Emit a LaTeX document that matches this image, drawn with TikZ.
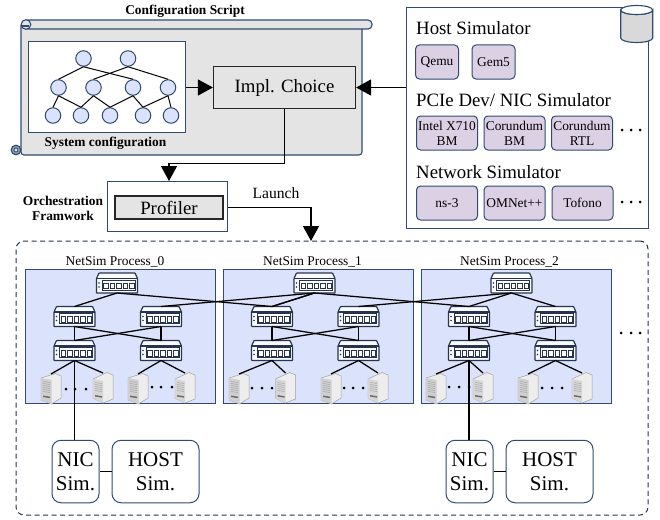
\documentclass[tikz,border=0pt]{standalone}
\usepackage{fontspec}
\setmainfont{Liberation Serif}
\usetikzlibrary{arrows.meta}
\definecolor{framecol}{HTML}{2F4B73}
\definecolor{scrollgray}{HTML}{E4E4E4}
\definecolor{simfill}{HTML}{DCD0E4}
\definecolor{procfill}{HTML}{DAE3FB}
\definecolor{switchcol}{HTML}{26344E}
\newcommand{\sizeS}{\fontsize{13.4}{15}\selectfont}
\newcommand{\sizeM}{\fontsize{15.6}{18}\selectfont}
\newcommand{\sizeL}{\fontsize{18.8}{22}\selectfont}
\newcommand{\sizeXL}{\fontsize{21}{24.5}\selectfont}
\tikzset{
  wire/.style={black,line width=1.25pt},
  bigarrow/.style={black,line width=1.3pt,-{Triangle[length=15pt,width=16pt]}},
  confnode/.style={circle,draw=framecol,fill=procfill,line width=1pt,minimum size=15.5pt,inner sep=0pt},
  simbox/.style={draw=framecol,fill=simfill,rounded corners=4pt,line width=1pt,inner sep=0pt,align=center,font=\sizeS},
  endbox/.style={draw=framecol,fill=white,rounded corners=9pt,line width=1pt,inner sep=0pt,align=center,font=\sizeXL,minimum height=62.5pt},
  procbox/.style={draw=framecol,fill=procfill,line width=1pt,inner sep=0pt,minimum width=190pt,minimum height=134pt},
  graybox/.style={draw=black!85,fill=scrollgray,line width=1.2pt,inner sep=0pt},
  plainbox/.style={draw=framecol,fill=white,line width=1pt,inner sep=0pt},
  netswitch/.pic={
    \fill[fill=white!85!procfill,draw=switchcol,line width=1.2pt,rounded corners=0.6pt]
      (-20.5,-4.5)--(-18,-10)--(18,-10)--(20.5,-4.5)--(20.5,10)--(-20.5,10)--cycle;
    \draw[switchcol,line width=1.2pt] (-20.5,-4.5)--(20.5,-4.5);
    \draw[switchcol,line width=1pt,fill=white] (-15,-3)rectangle(18,7);
    \foreach \q in {-11,-4.5,2,8.5,15}
      \draw[switchcol,line width=0.9pt] (\q-2.3,5.5)rectangle(\q+2.3,0);
    \fill[switchcol] (-18,0)circle(0.8) (-18,4)circle(0.8);
    \coordinate (-top) at (0,-10);
    \coordinate (-bot) at (0,10);
  },
  servera/.pic={
    \fill[fill=gray!14,draw=gray!75,line width=0.5pt] (-10,-11)--(4.5,-15.5)--(10,-13)--(10,9)--(0.5,15)--(-10,11)--cycle;
    \fill[fill=gray!38] (-10,-11)--(0.5,-9)--(0.5,15)--(-10,11)--cycle;
    \foreach \q in {-7,-5,-3,-1,1,3}
      \draw[gray!70,line width=0.5pt] (-8,\q-0.5)--(-1,\q+0.5);
    \fill[gray!85!black] (-8,6.5)--(-1,7.7)--(-1,9.2)--(-8,8)--cycle;
    \coordinate (-top) at (0,-15);
  },
  serverb/.pic={
    \fill[fill=gray!14,draw=gray!75,line width=0.5pt] (-10,-9)--(4,-15.5)--(10,-13)--(10,11)--(0,15)--(-10,10)--cycle;
    \fill[fill=gray!32] (-10,-9)--(0,-7)--(0,15)--(-10,10)--cycle;
    \foreach \q in {-5,-3,-1,1,3}
      \draw[gray!70,line width=0.5pt] (-8,\q-0.5)--(-1,\q+0.5);
    \fill[gray!85!black] (-8,7)--(-1,8.2)--(-1,9.7)--(-8,8.5)--cycle;
    \coordinate (-top) at (0,-15);
  }
}
\begin{document}
\begin{tikzpicture}[x=1pt,y=-1pt]
  \useasboundingbox (0,0) rectangle (660,519);
  % scroll
  \draw[framecol,fill=scrollgray,line width=1.1pt,rounded corners=3pt] (21,25)--(21,155)--(362,155)--(362,25);
  \draw[framecol,fill=scrollgray,line width=1.1pt,rounded corners=4pt] (24,20)--(372,20)--(372,29)--(24,29)--cycle;
  \draw[framecol,fill=scrollgray,line width=1.1pt] (26,24.5) circle (4.8);
  \draw[framecol,line width=1.1pt] (21,26)--(29,26);
  \draw[framecol,fill=framecol!55,line width=1.1pt] (16,150) circle (4.8);
  \draw[framecol,fill=scrollgray,line width=0.8pt] (16,150) circle (2);
  \node[font=\sizeS\bfseries] (scripttitle) at (185,11) {Configuration Script};
  \node[plainbox,minimum width=157pt,minimum height=90pt] (sysbox) at (106.5,87) {};
  \node[font=\sizeS\bfseries] (syslabel) at (105.5,143) {System configuration};
  % configuration tree
  \foreach \n/\x/\y in {t0/83.5/58.5,t1/128/58.5,
    m0/58.5/87.5,m1/93.5/87.5,m2/133/87.5,m3/168/87.5,
    b0/53/115.5,b1/81/115.5,b2/110/115.5,b3/143/115.5,b4/171/115.5}
    \node[confnode] (\n) at (\x,\y) {};
  \foreach \a/\b in {t0/m0,t0/m2,t1/m1,t1/m3,m0/b0,m0/b1,m1/b1,m1/b2,m2/b2,m2/b3,m3/b3,m3/b4}
    \draw[black,line width=1pt] (\a.south)--(\b.north);
  \node[graybox,font=\sizeL,minimum width=142pt,minimum height=42pt] (impl) at (284.5,87.5) {Impl. Choice};
  \node[plainbox,minimum width=120pt,minimum height=50pt] (orch) at (167.5,206.5) {};
  \node[graybox,font=\sizeL,minimum width=108pt,minimum height=23pt] (profiler) at (169,207.5) {Profiler};
  \node[font=\sizeS\bfseries,align=center] (orchlabel) at (63,208) {Orchestration\\Framwork};
  \node[font=\sizeM] (launch) at (276,193) {Launch};
  % simulator panel
  \node[plainbox,minimum width=242pt,minimum height=220pt] (panel) at (527,118) {};
  \fill[fill=scrollgray!95!black,draw=framecol,line width=1.1pt] (620.7,10) arc[start angle=180,end angle=360,x radius=16,y radius=-4.5]--(652.7,38) arc[start angle=0,end angle=-180,x radius=16,y radius=-4.5]--cycle;
  \draw[framecol,fill=white,line width=1.1pt] (636.7,10) ellipse (16 and 4.5);
  \node[font=\sizeL,anchor=west,inner sep=0pt] (hosttitle) at (416,28) {Host Simulator};
  \node[font=\sizeL,anchor=west,inner sep=0pt] (pcietitle) at (416,100) {PCIe Dev/ NIC Simulator};
  \node[font=\sizeL,anchor=west,inner sep=0pt] (nettitle) at (416,172) {Network Simulator};
  \node[simbox,minimum width=43pt,minimum height=34pt] (qemu) at (437,62) {Qemu};
  \node[simbox,minimum width=43pt,minimum height=34pt] (gem) at (493.5,62) {Gem5};
  \node[simbox,minimum width=61pt,minimum height=34pt] (intel) at (447,133) {Intel X710\\BM};
  \node[simbox,minimum width=61pt,minimum height=34pt] (corbm) at (514.5,133) {Corundum\\BM};
  \node[simbox,minimum width=61pt,minimum height=34pt] (corrtl) at (582,133) {Corundum\\RTL};
  \node[simbox,minimum width=61pt,minimum height=34pt] (nsthree) at (447,203) {ns-3};
  \node[simbox,minimum width=61pt,minimum height=34pt] (omnet) at (514.5,203) {OMNet++};
  \node[simbox,minimum width=61pt,minimum height=34pt] (tofono) at (582.5,203) {Tofono};
  % main arrows
  \draw[bigarrow] (sysbox.east|-impl)--(impl.west);
  \draw[bigarrow] (panel.west|-impl)--(impl.east);
  \draw[bigarrow] (impl.south)--(284.5,163.5)--(169,163.5)--(orch.north-|profiler);
  % outer dashed frame
  \node[draw=switchcol,dash pattern=on 5pt off 3.5pt,rounded corners=8pt,line width=1pt,inner sep=0pt,minimum width=632pt,minimum height=274pt] (netframe) at (332,378) {};
  \coordinate (launchend) at (311,241);
  \draw[bigarrow] (orch.east|-profiler)--(311,207.5)--(launchend);
  % netsim processes
  \foreach \p/\x/\bx in {0/0/120.5,1/197.5/318,2/394.5/516}{
    \node[procbox] (proc\p) at (\bx,336.5) {};
    \node[font=\sizeS] (proclabel\p) at (115+\x,262) {NetSim Process\_\p};
    \pic (root\p) at (117+\x,283) {netswitch};
    \pic (agga\p) at (74.5+\x,316.5) {netswitch};
    \pic (aggb\p) at (161+\x,316.5) {netswitch};
    \pic (edga\p) at (74.5+\x,350.5) {netswitch};
    \pic (edgb\p) at (161+\x,350.5) {netswitch};
    \draw[wire] (root\p-bot)--(agga\p-top);
    \draw[wire] (agga\p-bot)--(edga\p-top);
    \draw[wire] (aggb\p-bot)--(edgb\p-top);
    \draw[wire] (agga\p-bot)--(edgb\p-top);
    \draw[wire] (aggb\p-bot)--(edga\p-top);
  }
  % servers
  \foreach \p/\sa/\sb/\sc/\sd in {0/51/103/138/185,1/239/285.5/331/378,2/436/483/528/582}{
    \pic (srva\p) at (\sa,389) {servera};
    \pic (srvb\p) at (\sb,388) {serverb};
    \pic (srvc\p) at (\sc,389) {servera};
    \pic (srvd\p) at (\sd,388) {serverb};
    \draw[wire] (edga\p-bot)--(srva\p-top);
    \draw[wire] (edga\p-bot)--(srvb\p-top);
    \draw[wire] (edgb\p-bot)--(srvc\p-top);
    \draw[wire] (edgb\p-bot)--(srvd\p-top);
  }
  \foreach \x/\y in {66/389,75/389,86/389,152/387,161/387,172/387,
    252/388,262/388,272/388,344/388,353/388,363/388,
    449/387,459/387,469/387,542/388,552/388,562/388,
    621/333,631/333,640/333,622/130,631/130,640/130,622/202,631/202,640/202}
    \fill[black] (\x,\y) circle (1.5);
  % links across the processes
  \draw[wire] (root0-bot)--(agga1-top);
  \draw[wire] (root1-bot)--(aggb0-top);
  \draw[wire] (root1-bot)--(agga1-top);
  \draw[wire] (root1-bot)--(agga2-top);
  \draw[wire] (root2-bot)--(aggb1-top);
  \draw[wire] (root2-bot)--(aggb2-top);
  % attached simulators
  \foreach \p/\n/\h in {0/75.5/155.5,2/469.5/549.5}{
    \node[endbox,minimum width=47pt] (nic\p) at (\n,471.5) {NIC\\Sim.};
    \node[endbox,minimum width=87pt] (host\p) at (\h,471.5) {HOST\\Sim.};
    \draw[wire] (nic\p)--(host\p);
    \draw[wire] (edga\p-bot)--(edga\p-bot|-nic\p.north);
  }
\end{tikzpicture}
\end{document}
